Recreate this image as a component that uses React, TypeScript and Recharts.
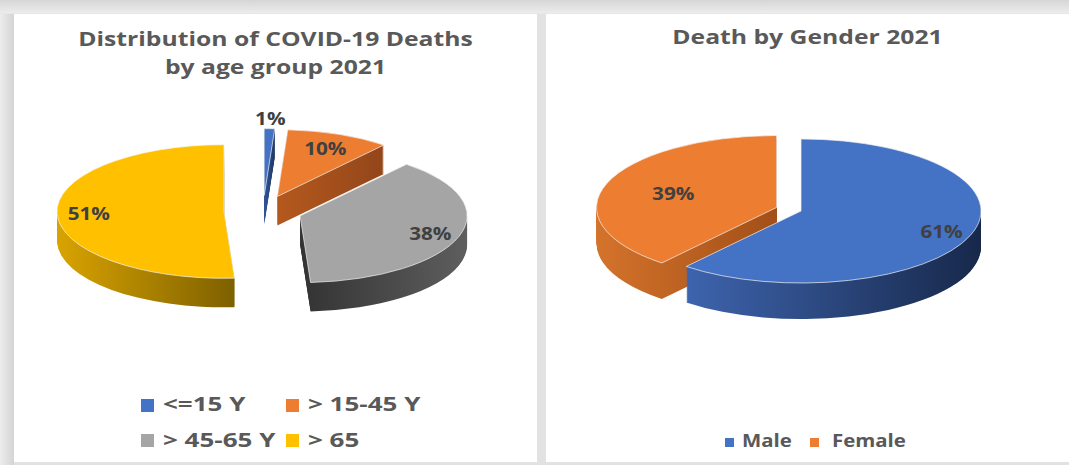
import React from 'react';
import { PieChart, Pie, Cell } from 'recharts';

// deaths by age group, share in %
const ageGroups = ['<=15 Y', '> 15-45 Y', '> 45-65 Y', '> 65'];
const ageShares = [1, 10, 38, 51];

// deaths by gender, share in %
const genders = ['Male', 'Female'];
const genderShares = [61, 39];

const ageColors = ['#4472c4', '#ed7d31', '#a5a5a5', '#ffc000'];
const ageSides: [string, string][] = [
  ['#2f5597', '#203864'],
  ['#b4591e', '#93461a'],
  ['#333333', '#5e5e5e'],
  ['#d9a300', '#7d6000'],
];
const genderColors = ['#4472c4', '#ed7d31'];
const genderSides: [string, string][] = [
  ['#3e64ae', '#17284a'],
  ['#d4732b', '#a24f18'],
];

// vertical squash applied to the round pies to tilt them
const K = 0.4;
const FONT = '"Open Sans", "DejaVu Sans", sans-serif';
const RAD = Math.PI / 180;

interface Pie3DProps {
  id: string;
  names: string[];
  values: number[];
  colors: string[];
  sides: [string, string][];
  left: number;
  width: number;
  cx: number;
  cy: number;
  radius: number;
  depth: number;
  explode: number[];
  labelRadius: number[];
}

function Pie3D({ id, names, values, colors, sides, left, width, cx, cy, radius, depth, explode, labelRadius }: Pie3DProps) {
  const data = names.map((name, i) => ({ name, value: values[i] }));
  const total = values.reduce((a, b) => a + b, 0);

  // pull each slice out along its middle angle (clockwise from 12 o'clock)
  let acc = 0;
  const offsets = values.map((v, i) => {
    const mid = ((acc + v / 2) / total) * 360 * RAD;
    acc += v;
    return { dx: explode[i] * Math.sin(mid), dy: -explode[i] * Math.cos(mid) };
  });

  const baseCy = cy / K;

  const renderLabel = (slice: number) => (p: any) => {
    if (p.index !== slice) return null;
    const r = p.outerRadius * labelRadius[slice];
    const x = p.cx + r * Math.cos(-p.midAngle * RAD);
    const y = p.cy + r * Math.sin(-p.midAngle * RAD);
    return (
      <g transform={`translate(${x},${y}) scale(1.15,${1 / K})`}>
        <text
          x={0}
          y={0}
          textAnchor="middle"
          dominantBaseline="central"
          fill="#404040"
          fontSize={18}
          fontWeight={700}
          fontFamily={FONT}
        >
          {`${Math.round(p.percent * 100)}%`}
        </text>
      </g>
    );
  };

  const layers: React.ReactNode[] = [];
  for (let d = depth; d >= 1; d--) {
    values.forEach((_, i) => {
      layers.push(
        <Pie
          key={`side-${i}-${d}`}
          data={data}
          dataKey="value"
          cx={cx + offsets[i].dx}
          cy={baseCy + offsets[i].dy + d / K}
          outerRadius={radius}
          startAngle={90}
          endAngle={-270}
          stroke="none"
          label={false}
          labelLine={false}
          isAnimationActive={false}
        >
          {data.map((_, j) => (
            <Cell key={j} fill={j === i ? `url(#${id}-side-${i})` : 'transparent'} stroke="none" />
          ))}
        </Pie>
      );
    });
  }

  const tops = values.map((_, i) => (
    <Pie
      key={`top-${i}`}
      data={data}
      dataKey="value"
      cx={cx + offsets[i].dx}
      cy={baseCy + offsets[i].dy}
      outerRadius={radius}
      startAngle={90}
      endAngle={-270}
      label={renderLabel(i)}
      labelLine={false}
      isAnimationActive={false}
    >
      {data.map((_, j) => (
        <Cell
          key={j}
          fill={j === i ? colors[i] : 'transparent'}
          stroke={j === i ? '#f4f4f4' : 'none'}
          strokeWidth={j === i ? 1 : 0}
        />
      ))}
    </Pie>
  ));

  return (
    <div style={{ position: 'absolute', left, top: 0, transform: `scaleY(${K})`, transformOrigin: '0 0' }}>
      <svg width={0} height={0} style={{ position: 'absolute' }}>
        <defs>
          {sides.map(([a, b], i) => (
            <linearGradient key={i} id={`${id}-side-${i}`} x1="0" y1="0" x2="1" y2="0">
              <stop offset="0%" stopColor={a} />
              <stop offset="100%" stopColor={b} />
            </linearGradient>
          ))}
        </defs>
      </svg>
      <PieChart width={width} height={Math.round(465 / K)} margin={{ top: 0, right: 0, bottom: 0, left: 0 }}>
        {layers}
        {tops}
      </PieChart>
    </div>
  );
}

const titleStyle: React.CSSProperties = {
  position: 'absolute',
  top: 25,
  width: 523,
  textAlign: 'center',
  fontFamily: FONT,
  fontWeight: 700,
  fontSize: 19,
  lineHeight: '28px',
  color: '#595959',
  transform: 'scaleX(1.3)',
  transformOrigin: '50% 0',
};

interface KeyProps {
  x: number;
  textX: number;
  top: number;
  box: number;
  boxTop: number;
  color: string;
  label: string;
  fontSize: number;
  stretch: number;
}

function LegendKey({ x, textX, top, box, boxTop, color, label, fontSize, stretch }: KeyProps) {
  return (
    <>
      <div style={{ position: 'absolute', left: x, top: boxTop, width: box, height: box, background: color }} />
      <div
        style={{
          position: 'absolute',
          left: textX,
          top,
          whiteSpace: 'nowrap',
          fontFamily: FONT,
          fontWeight: 700,
          fontSize,
          lineHeight: `${fontSize}px`,
          color: '#595959',
          transform: `scaleX(${stretch})`,
          transformOrigin: '0 0',
        }}
      >
        {label}
      </div>
    </>
  );
}

export default function App() {
  return (
    <div
      style={{
        position: 'absolute',
        left: 0,
        top: 0,
        width: 1069,
        height: 465,
        overflow: 'hidden',
        background: 'linear-gradient(#d6d6d6 0px, #ececec 13px, #e2e2e2 14px)',
      }}
    >
      <div style={{ position: 'absolute', left: 0, top: 14, width: 14, height: 451, background: 'linear-gradient(90deg, #ececec, #d4d4d4)' }} />
      <div style={{ position: 'absolute', left: 14, top: 14, width: 523, height: 448, background: '#fff' }} />
      <div style={{ position: 'absolute', left: 546, top: 14, width: 523, height: 448, background: '#fff' }} />

      <div style={{ ...titleStyle, left: 14 }}>
        Distribution of COVID-19 Deaths
        <br />
        by age group 2021
      </div>
      <div style={{ ...titleStyle, left: 546, top: 23 }}>Death by Gender 2021</div>

      <Pie3D
        id="age"
        names={ageGroups}
        values={ageShares}
        colors={ageColors}
        sides={ageSides}
        left={0}
        width={540}
        cx={263}
        cy={211}
        radius={167}
        depth={29}
        explode={[39, 39, 39, 39]}
        labelRadius={[1.16, 0.78, 0.82, 0.81]}
      />
      <Pie3D
        id="gender"
        names={genders}
        values={genderShares}
        colors={genderColors}
        sides={genderSides}
        left={540}
        width={529}
        cx={261}
        cy={211}
        radius={180}
        depth={36}
        explode={[0, 26]}
        labelRadius={[0.83, 0.61]}
      />

      {ageGroups.map((g, i) => {
        const col = i % 2;
        const row = Math.floor(i / 2);
        const x = 141 + col * 145;
        return (
          <LegendKey
            key={g}
            x={x}
            textX={x + 22}
            top={394 + row * 36}
            box={13}
            boxTop={399 + row * 35}
            color={ageColors[i]}
            label={g}
            fontSize={20}
            stretch={1.3}
          />
        );
      })}

      {genders.map((g, i) => {
        const x = 725 + i * 85;
        return (
          <LegendKey
            key={g}
            x={x}
            textX={x + 17 + i * 5}
            top={432}
            box={9}
            boxTop={438}
            color={genderColors[i]}
            label={g}
            fontSize={17}
            stretch={1.2}
          />
        );
      })}
    </div>
  );
}
